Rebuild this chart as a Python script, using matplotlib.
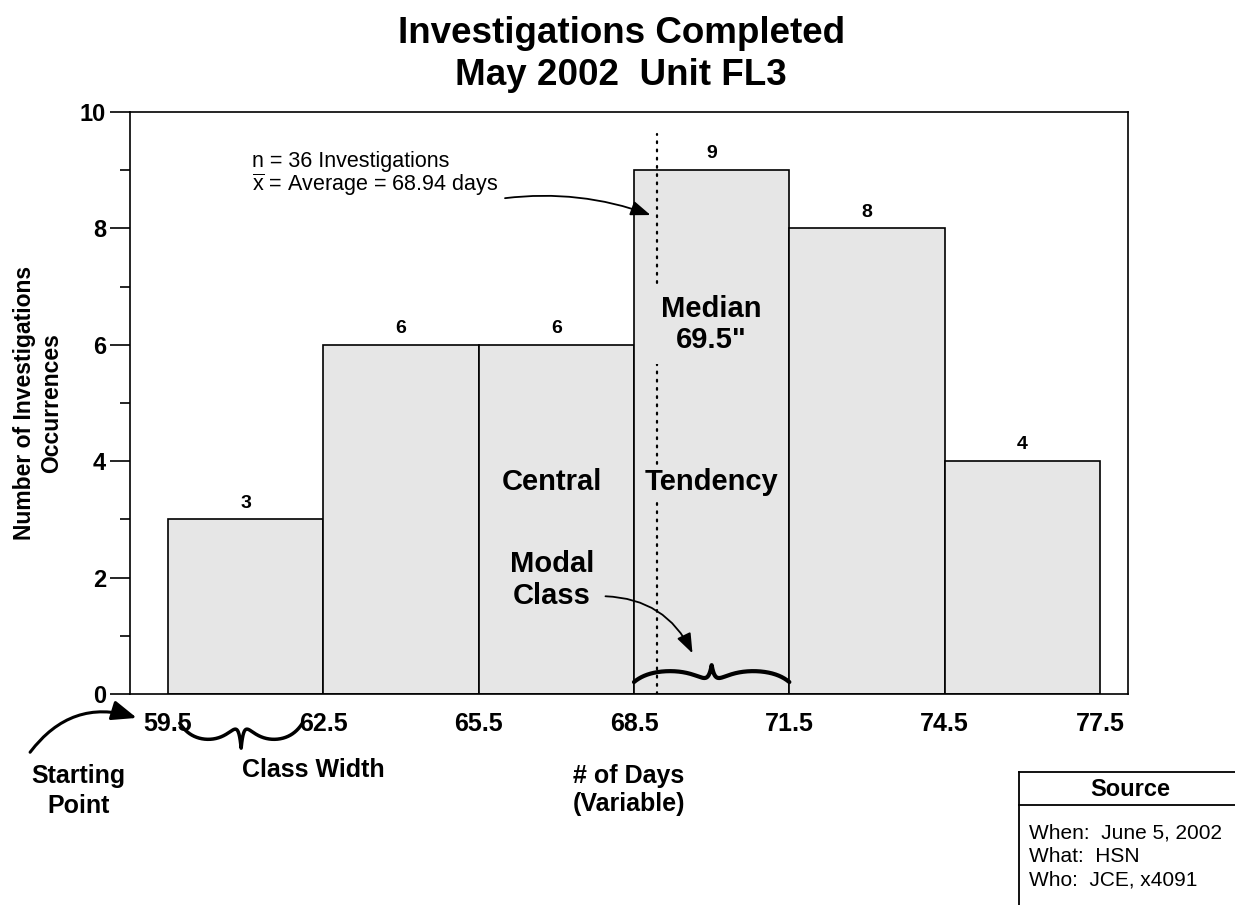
import numpy as np
import matplotlib.pyplot as plt
from matplotlib.lines import Line2D

plt.rcParams['font.family'] = ['Liberation Sans', 'DejaVu Sans']
plt.rcParams['mathtext.fontset'] = 'custom'
plt.rcParams['mathtext.rm'] = 'Liberation Sans'

# class boundaries (days) and number of investigations per class
edges = [59.5, 62.5, 65.5, 68.5, 71.5, 74.5, 77.5]
counts = [3, 6, 6, 9, 8, 4]
n_total = 36
mean_days = 68.94
median_days = 69.5
modal_class = (68.5, 71.5)

bar_gray = '#e6e6e6'
width = edges[1] - edges[0]
centers = [e + width / 2 for e in edges[:-1]]


def brace(ax, x0, x1, y0, h, lw=2.5):
    # curly brace from x0 to x1, ends at y0, cusp at y0 + h
    t = np.linspace(0, 1, 200)
    shape = 0.765 * (1 - np.exp(-5 * t)) - 0.935 * t ** 4 + 1.176 * np.exp(-(1 - t) * 25)
    xm = (x0 + x1) / 2
    xs = np.concatenate([x0 + (xm - x0) * t, x1 - (x1 - xm) * t[::-1]])
    ys = np.concatenate([shape, shape[::-1]])
    ax.plot(xs, y0 + h * ys, color='black', lw=lw, clip_on=False,
            solid_capstyle='round', zorder=6)


fig = plt.figure(figsize=(12.35, 9.05), dpi=100)
ax = fig.add_axes([0.1053, 0.2331, 0.8081, 0.6431])

ax.bar(edges[:-1], counts, width=width, align='edge', color=bar_gray,
       edgecolor='black', linewidth=1.2, zorder=2)

for x, c in zip(centers, counts):
    ax.annotate(str(c), (x, c), xytext=(0, 8.5), textcoords='offset points',
                ha='center', va='baseline', fontsize=14, fontweight='bold')

ax.set_xlim(58.77, 78.04)
ax.set_ylim(0, 10)

# mean line
ax.axvline(mean_days, ymin=0, ymax=0.962, color='black', lw=1.6,
           linestyle=(0, (0.8, 2.9)), dash_capstyle='round', zorder=3)

ax.set_xticks(edges)
ax.set_xticklabels([f'{e:.1f}' for e in edges])
ax.set_yticks(range(0, 11, 2))
ax.set_yticks(range(1, 11, 2), minor=True)
ax.tick_params(axis='x', length=0, pad=13, labelsize=18)
ax.tick_params(axis='y', which='major', length=14.4, width=1.2, pad=3, labelsize=17)
ax.tick_params(axis='y', which='minor', length=7.2, width=1.2)
for lbl in ax.get_xticklabels() + ax.get_yticklabels():
    lbl.set_fontweight('bold')
for s in ax.spines.values():
    s.set_linewidth(1.2)

ax.set_xlabel('# of Days\n(Variable)', fontsize=18, fontweight='bold', labelpad=20)
ax.set_ylabel('Number of Investigations\nOccurrences', fontsize=16.5,
              fontweight='bold', labelpad=12)

fig.text(0.503, 1 - 43 / 905, 'Investigations Completed', ha='center', va='baseline',
         fontsize=26.5, fontweight='bold')
fig.text(0.503, 1 - 85 / 905, 'May 2002  Unit FL3', ha='center', va='baseline',
         fontsize=26.5, fontweight='bold')

# summary note with arrow to the mean line
ax.text(61.13, 9.05, f'n = {n_total} Investigations', fontsize=15.5, va='baseline')
ax.text(61.13, 8.64, r'$\overline{\mathrm{x}}$' + f' = Average = {mean_days:.2f} days',
        fontsize=15.5, va='baseline')
ax.annotate('', xy=(mean_days - 0.12, 8.23), xytext=(66.01, 8.52),
            arrowprops=dict(arrowstyle='-|>,head_length=0.8,head_width=0.3',
                            connectionstyle='arc3,rad=-0.12', color='black',
                            lw=1.3, mutation_scale=15, shrinkA=0, shrinkB=0))

big = dict(fontsize=21, fontweight='bold', ha='center')
ax.text(centers[3], 6.35, f'Median\n{median_days}"', va='center', linespacing=1.15,
        bbox=dict(facecolor=bar_gray, edgecolor='none', pad=7), zorder=5, **big)
ax.text(66.92, 3.5, 'Central', va='baseline', zorder=5, **big)
ax.text(centers[3], 3.5, 'Tendency', va='baseline', zorder=5,
        bbox=dict(facecolor=bar_gray, edgecolor='none', pad=2), **big)
ax.text(66.92, 1.546, 'Modal\nClass', va='baseline', linespacing=1.2, zorder=5, **big)
ax.annotate('', xy=(69.63, 0.70), xytext=(67.95, 1.68),
            arrowprops=dict(arrowstyle='-|>,head_length=0.8,head_width=0.3',
                            connectionstyle='arc3,rad=-0.3', color='black',
                            lw=1.3, mutation_scale=15, shrinkA=0, shrinkB=0))

# braces for modal class and class width
brace(ax, modal_class[0], modal_class[1], 0.206, 0.29, lw=3)
brace(ax, edges[0] + 0.23, edges[1] - 0.4, -0.50, -0.43, lw=2.5)
ax.text(62.3, -1.43, 'Class Width', fontsize=18, fontweight='bold', ha='center',
        va='baseline')

ax.text(57.78, -2.05, 'Starting\nPoint', fontsize=18, fontweight='bold', ha='center',
        va='baseline', linespacing=1.35)
ax.annotate('', xy=(58.9, -0.41), xytext=(56.84, -1.0), annotation_clip=False,
            arrowprops=dict(arrowstyle='-|>,head_length=1.0,head_width=0.4',
                            connectionstyle='arc3,rad=-0.35', color='black',
                            lw=2.2, mutation_scale=15, shrinkA=0, shrinkB=0))

# source box
bx, btop, bsep = 1019 / 1235, 1 - 772 / 905, 1 - 805 / 905
for xs, ys in [([bx, 1.0], [btop, btop]), ([bx, 1.0], [bsep, bsep]), ([bx, bx], [btop, 0.0])]:
    fig.add_artist(Line2D(xs, ys, color='black', lw=1.3))
fig.text(0.915, 1 - 796 / 905, 'Source', ha='center', va='baseline', fontsize=17,
         fontweight='bold')
for i, line in enumerate(['When:  June 5, 2002', 'What:  HSN', 'Who:  JCE, x4091']):
    fig.text(1029 / 1235, 1 - (838 + 23.5 * i) / 905, line, fontsize=15, va='baseline')

fig.savefig('out.png', dpi=100)
